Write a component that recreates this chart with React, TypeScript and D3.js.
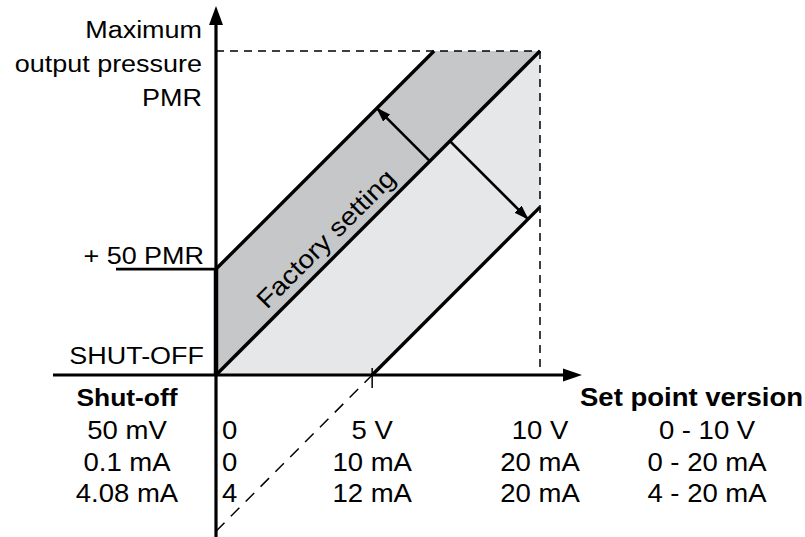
import * as d3 from "d3";

// set point axis: 0 .. 10 V, pressure axis scaled the same way (0 = shut-off, 10 = max PMR)
const pmrOffset = 3.27; // "+ 50 PMR" level at set point 0
const lowerOffset = 4.82; // lower limit line crosses shut-off here (the 5 V tick)
const maxValue = 10;

const factoryLine: [number, number][] = [[0, 0], [maxValue, maxValue]];
const upperLine: [number, number][] = [[0, pmrOffset], [maxValue - pmrOffset, maxValue]];
const lowerLine: [number, number][] = [[lowerOffset, 0], [maxValue, maxValue - lowerOffset]];
const lowerExtension: [number, number][] = [[0, -lowerOffset], [lowerOffset, 0]];

const upperBand: [number, number][] = [[0, 0], [0, pmrOffset], [maxValue - pmrOffset, maxValue], [maxValue, maxValue]];
const lowerBand: [number, number][] = [[0, 0], [maxValue, maxValue], [maxValue, maxValue - lowerOffset], [lowerOffset, 0]];

// arrows start on the factory line and run perpendicular to the limit lines
const arrowUpStart = 6.6;
const arrowDownStart = 7.22;

const tickValues = [0, lowerOffset, maxValue];
const voltLabels = ["0", "5 V", "10 V"];
const currentLabels = ["0", "10 mA", "20 mA"];
const liveZeroLabels = ["4", "12 mA", "20 mA"];
const shutOffLabels = ["50 mV", "0.1 mA", "4.08 mA"];
const versionLabels = ["0 - 10 V", "0 - 20 mA", "4 - 20 mA"];
const yTitle = ["Maximum", "output pressure", "PMR"];

const W = 805;
const H = 537;
const font = "'Liberation Sans', Arial, Helvetica, sans-serif";
const stretch = 1.1; // the lettering in the original is a little wide

const x = d3.scaleLinear().domain([0, maxValue]).range([216, 540]);
const y = d3.scaleLinear().domain([0, maxValue]).range([375, 51]);

const line = d3
  .line<[number, number]>()
  .x((d) => x(d[0]))
  .y((d) => y(d[1]));

const area = (pts: [number, number][]) => line(pts) + "Z";

type LabelProps = {
  x: number;
  y: number;
  size: number;
  anchor?: "start" | "middle" | "end";
  bold?: boolean;
  rotate?: number;
  children: string;
};

const Label = ({ x, y, size, anchor = "start", bold, rotate = 0, children }: LabelProps) => (
  <text
    transform={`translate(${x},${y}) rotate(${rotate}) scale(${stretch},1)`}
    textAnchor={anchor}
    fontSize={size}
    fontWeight={bold ? "bold" : "normal"}
  >
    {children}
  </text>
);

const App = () => {
  const x0 = x(0);
  const y0 = y(0);
  const xEnd = 582;
  const yTop = 6;

  const arrowUp: [number, number][] = [
    [arrowUpStart, arrowUpStart],
    [arrowUpStart - pmrOffset / 2, arrowUpStart + pmrOffset / 2],
  ];
  const arrowDown: [number, number][] = [
    [arrowDownStart, arrowDownStart],
    [arrowDownStart + lowerOffset / 2, arrowDownStart - lowerOffset / 2],
  ];

  const rows = [voltLabels, currentLabels, liveZeroLabels];
  const rowY = [439, 470.5, 502];

  return (
    <svg
      width={W}
      height={H}
      style={{ position: "absolute", left: 0, top: 0, background: "#fff" }}
      fontFamily={font}
    >
      <defs>
        <marker id="head" viewBox="0 0 15 10" refX="14" refY="5" markerWidth="15" markerHeight="10" markerUnits="userSpaceOnUse" orient="auto">
          <path d="M0,0 L15,5 L0,10 Z" fill="#000" />
        </marker>
      </defs>

      {/* bands */}
      <path d={area(lowerBand)} fill="#e6e7e8" />
      <path d={area(upperBand)} fill="#c6c7c9" />

      {/* dashed limits */}
      <line x1={x0} x2={x(maxValue)} y1={y(maxValue)} y2={y(maxValue)} stroke="#000" strokeWidth={1.5} strokeDasharray="8 6" />
      <line x1={x(maxValue)} x2={x(maxValue)} y1={y(maxValue)} y2={y0 - 3} stroke="#000" strokeWidth={1.5} strokeDasharray="8 6" />
      <path d={line(lowerExtension)!} stroke="#000" strokeWidth={1.5} strokeDasharray="12 9" fill="none" />

      {/* axes */}
      <line x1={53} x2={xEnd - 16} y1={y0} y2={y0} stroke="#000" strokeWidth={3.2} />
      <path d={`M${xEnd},${y0} L${xEnd - 19},${y0 - 6.5} L${xEnd - 19},${y0 + 6.5} Z`} fill="#000" />
      <line x1={x0} x2={x0} y1={H} y2={yTop + 16} stroke="#000" strokeWidth={3.2} />
      <path d={`M${x0},${yTop} L${x0 - 7},${yTop + 19} L${x0 + 7},${yTop + 19} Z`} fill="#000" />
      <line x1={x0} x2={x0} y1={y0} y2={y(pmrOffset)} stroke="#000" strokeWidth={4.5} />
      <line x1={116} x2={x0} y1={y(pmrOffset)} y2={y(pmrOffset)} stroke="#000" strokeWidth={2.8} />
      <line x1={x(lowerOffset)} x2={x(lowerOffset)} y1={y0 - 7} y2={y0 + 13} stroke="#000" strokeWidth={1.5} />

      {/* characteristic lines */}
      {[factoryLine, upperLine, lowerLine].map((pts, i) => (
        <path key={i} d={line(pts)!} stroke="#000" strokeWidth={3.4} fill="none" />
      ))}

      {/* adjustment arrows */}
      <path d={line(arrowUp)!} stroke="#000" strokeWidth={2.6} fill="none" markerEnd="url(#head)" />
      <path d={line(arrowDown)!} stroke="#000" strokeWidth={2.6} fill="none" markerEnd="url(#head)" />

      <Label x={x(3.58)} y={y(4.01)} size={25.5} anchor="middle" rotate={-45}>
        Factory setting
      </Label>

      {/* y labels */}
      {yTitle.map((t, i) => (
        <Label key={t} x={202} y={37.5 + i * 34.3} size={24.5} anchor="end">
          {t}
        </Label>
      ))}
      <Label x={204} y={263.5} size={24.5} anchor="end">+ 50 PMR</Label>
      <Label x={204} y={363.5} size={24.5} anchor="end">SHUT-OFF</Label>

      {/* table */}
      <Label x={127} y={406} size={24} anchor="middle" bold>Shut-off</Label>
      <Label x={803} y={406} size={25} anchor="end" bold>Set point version</Label>
      {rows.map((r, i) => (
        <g key={i}>
          <Label x={127} y={rowY[i]} size={25} anchor="middle">{shutOffLabels[i]}</Label>
          {r.map((lab, j) => (
            <Label
              key={j}
              x={j === 0 ? x(tickValues[j]) + 6 : x(tickValues[j])}
              y={rowY[i]}
              size={25}
              anchor={j === 0 ? "start" : "middle"}
            >
              {lab}
            </Label>
          ))}
          <Label x={707} y={rowY[i]} size={25} anchor="middle">{versionLabels[i]}</Label>
        </g>
      ))}
    </svg>
  );
};

export default App;
